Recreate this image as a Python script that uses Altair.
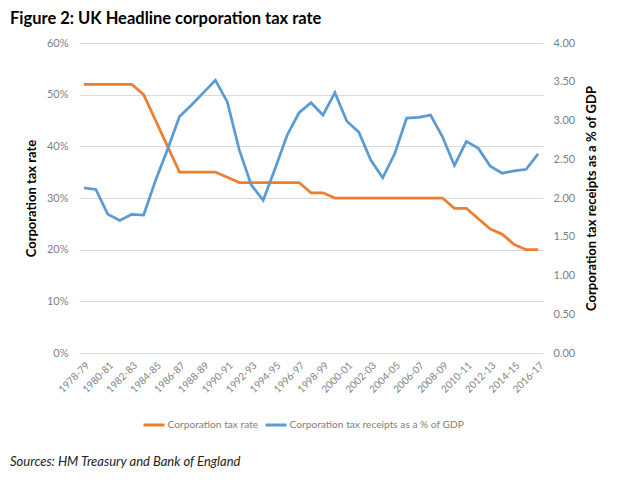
import altair as alt
import pandas as pd

years = ["1978-79", "1979-80", "1980-81", "1981-82", "1982-83", "1983-84", "1984-85",
         "1985-86", "1986-87", "1987-88", "1988-89", "1989-90", "1990-91", "1991-92",
         "1992-93", "1993-94", "1994-95", "1995-96", "1996-97", "1997-98", "1998-99",
         "1999-00", "2000-01", "2001-02", "2002-03", "2003-04", "2004-05", "2005-06",
         "2006-07", "2007-08", "2008-09", "2009-10", "2010-11", "2011-12", "2012-13",
         "2013-14", "2014-15", "2015-16", "2016-17"]
shown_years = years[::2]

rate = [52, 52, 52, 52, 52, 50, 45, 40, 35, 35, 35, 35, 34, 33, 33, 33, 33, 33, 33, 31,
        31, 30, 30, 30, 30, 30, 30, 30, 30, 30, 30, 28, 28, 26, 24, 23, 21, 20, 20]
receipts = [2.13, 2.11, 1.79, 1.71, 1.79, 1.78, 2.23, 2.63, 3.05, 3.20, 3.36, 3.52, 3.24,
            2.62, 2.17, 1.97, 2.38, 2.81, 3.10, 3.23, 3.07, 3.36, 2.99, 2.85, 2.49, 2.26,
            2.57, 3.03, 3.04, 3.07, 2.79, 2.42, 2.73, 2.64, 2.41, 2.32, 2.35, 2.37, 2.57]

left_ticks = [0, 10, 20, 30, 40, 50, 60]
right_ticks = [0, 0.5, 1, 1.5, 2, 2.5, 3, 3.5, 4]

series_names = ["Corporation tax rate", "Corporation tax receipts as a % of GDP"]
series_colors = ["#ED7D31", "#5B9BD5"]

df = pd.DataFrame({"year": years, "rate": rate, "receipts": receipts})

FONT = "Lato"
GRAY = "#7f7f7f"

x_enc = alt.X(
    "year:O",
    sort=years,
    scale=alt.Scale(type="point", padding=0.41),
    axis=alt.Axis(values=shown_years, labelAngle=-45, ticks=False, domain=False,
                  grid=False, title=None, labelColor=GRAY, labelFontSize=10,
                  labelPadding=7, labelFont=FONT),
)

color_enc = alt.Color(
    "series:N",
    scale=alt.Scale(domain=series_names, range=series_colors),
    legend=alt.Legend(orient="none", legendX=63, legendY=370, direction="horizontal",
                      title=None, symbolType="stroke", symbolSize=441,
                      symbolStrokeWidth=3, labelFontSize=10.2, labelColor=GRAY,
                      columnPadding=0, labelOffset=1.5, labelLimit=400,
                      labelFont=FONT, padding=0),
)

base = alt.Chart(df)

rate_line = base.transform_calculate(series="'" + series_names[0] + "'").mark_line(
    strokeWidth=2.75
).encode(
    x=x_enc,
    y=alt.Y("rate:Q",
            scale=alt.Scale(domain=[0, 60], nice=False),
            axis=alt.Axis(values=left_ticks, labelExpr="datum.value + '%'",
                          title="Corporation tax rate", orient="left",
                          grid=True, gridColor="#d9d9d9", ticks=False, domain=False,
                          labelColor=GRAY, labelFontSize=11, labelPadding=11,
                          titleFontSize=13, titleFontWeight="bold", titleColor="#000",
                          titlePadding=8, labelFont=FONT, titleFont=FONT)),
    color=color_enc,
)

receipts_line = base.transform_calculate(series="'" + series_names[1] + "'").mark_line(
    strokeWidth=2.75
).encode(
    x=x_enc,
    y=alt.Y("receipts:Q",
            scale=alt.Scale(domain=[0, 4], nice=False),
            axis=alt.Axis(values=right_ticks, format=".2f",
                          title="Corporation tax receipts as a % of GDP", orient="right",
                          grid=False, ticks=False, domain=False, titleAngle=270,
                          titleBaseline="top",
                          labelColor=GRAY, labelFontSize=11, labelPadding=10,
                          titleFontSize=13, titleFontWeight="bold", titleColor="#000",
                          titlePadding=11, labelFont=FONT, titleFont=FONT)),
    color=color_enc,
)

source = alt.Chart(pd.DataFrame({"t": ["Sources: HM Treasury and Bank of England"]})).mark_text(
    align="left", baseline="alphabetic", fontStyle="italic", fontSize=13,
    font=FONT, color="#222222"
).encode(x=alt.value(-69), y=alt.value(423), text="t:N")

chart = alt.layer(rate_line, receipts_line, source).resolve_scale(
    y="independent"
).properties(
    width=464,
    height=310,
    autosize=alt.AutoSizeParams(type="none"),
    padding={"left": 71, "top": 35, "right": 70, "bottom": 120},
    title=alt.Title("Figure 2: UK Headline corporation tax rate", anchor="start",
                    fontSize=16.5, font=FONT, fontWeight="bold", color="#000",
                    offset=10),
).configure_view(stroke=None)

chart.save("out.html", embed_options={"renderer": "svg", "actions": False})
